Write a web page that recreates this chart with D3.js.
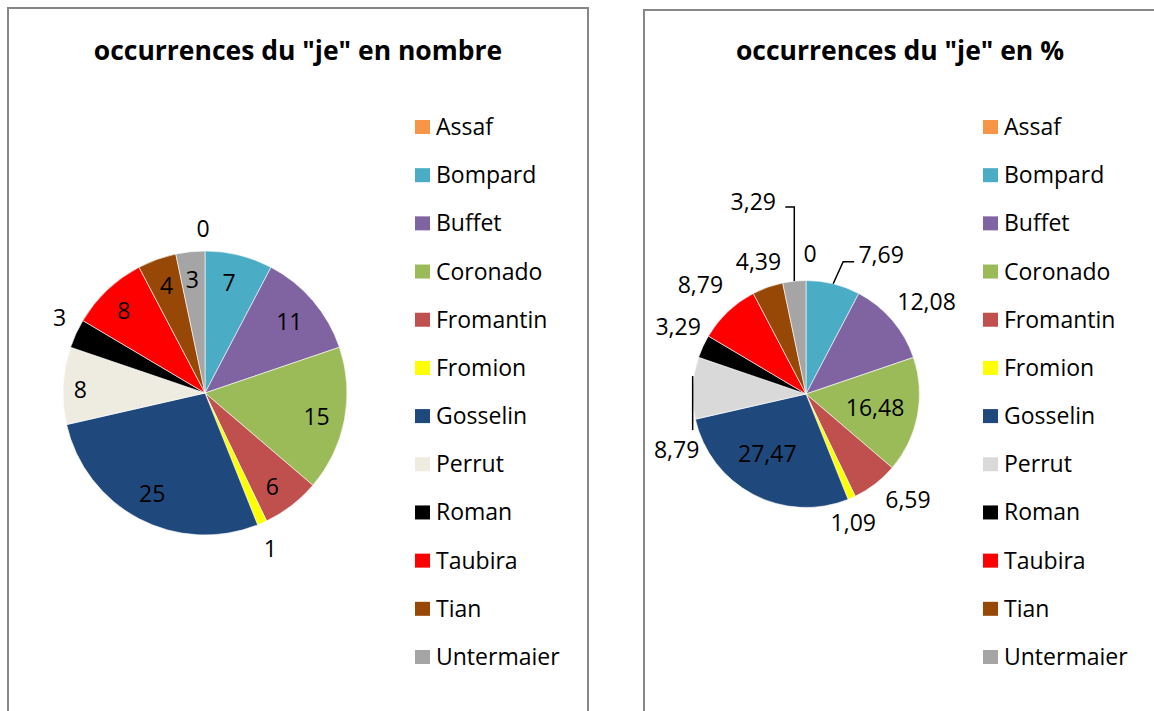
<!DOCTYPE html>
<html lang="fr">
<head>
  <meta charset="UTF-8">
  <title>occurrences du "je"</title>
  <script src="https://d3js.org/d3.v7.min.js"></script>
  <style>
    body {
      margin: 0;
      background: #fff;
    }
    svg {
      display: block;
      font-family: "Open Sans", Arial, sans-serif;
    }
  </style>
</head>
<body>
<svg width="1154" height="711"></svg>

<script>
  // data
  const names = ["Assaf", "Bompard", "Buffet", "Coronado", "Fromantin", "Fromion",
                 "Gosselin", "Perrut", "Roman", "Taubira", "Tian", "Untermaier"];
  const counts = [0, 7, 11, 15, 6, 1, 25, 8, 3, 8, 4, 3];
  const percents = [0, 7.69, 12.08, 16.48, 6.59, 1.09, 27.47, 8.79, 3.29, 8.79, 4.39, 3.29];

  const colorsLeft = ["#F79646", "#4BACC6", "#8064A2", "#9BBB59", "#C0504D", "#FFFF00",
                      "#1F497D", "#EEECE1", "#000000", "#FF0000", "#974806", "#A5A5A5"];
  const colorsRight = colorsLeft.map((c, i) => names[i] === "Perrut" ? "#D9D9D9" : c);

  const frFormat = d3.formatLocale({decimal: ",", thousands: " ", grouping: [3], currency: ["", " €"]}).format(".2f");

  const svg = d3.select("svg");

  // label placement: radius factor and pixel nudge, per slice
  const charts = [
    {
      title: 'occurrences du "je" en nombre',
      values: counts,
      colors: colorsLeft,
      fmt: d => String(d),
      frame: {x: 8, y: 8, w: 580},
      cx: 205, cy: 393, r: 142,
      legendX: 415,
      labelK: [1.155, 0.8, 0.8, 0.8, 0.8, 1.18, 0.8, 0.88, 1.15, 0.8, 0.8, 0.8],
      nudge: [[-2, 0], [-3, 0], [-2, 3], [0, 2], [-2, 4], [-2, 2], [0, 0], [0, 3], [3, -7], [-3, 0], [0, 0], [-1, 0]],
      leaders: {}
    },
    {
      title: 'occurrences du "je" en %',
      values: percents,
      colors: colorsRight,
      fmt: d => d === 0 ? "0" : frFormat(d),
      frame: {x: 644, y: 10, w: 512},
      cx: 806, cy: 394, r: 113.5,
      legendX: 983,
      labelK: [1.24, 1.0, 1.34, 0.62, 1.3, 1.21, 0.62, 1.0, 1.27, 1.34, 1.24, 1.0],
      nudge: [[4, 0], [48, -29], [5, 7], [0, 0], [12, -11], [-8, 3], [-6, -3], [-16, 62], [3, -7], [-1, 1], [0, 0], [-41, -79]],
      leaders: {
        1: (e, l) => [e, [l[0] - 38, l[1] + 7], [l[0] - 27, l[1] + 7]],
        7: (e, l) => [[e[0], e[1] - 12], [e[0], l[1] - 20]],
        11: (e, l) => [e, [e[0], l[1] + 5], [l[0] + 32, l[1] + 5]]
      }
    }
  ];

  charts.forEach(ch => {
    const g = svg.append("g");

    // chart frame (runs off the bottom of the picture)
    g.append("rect")
      .attr("x", ch.frame.x)
      .attr("y", ch.frame.y)
      .attr("width", ch.frame.w)
      .attr("height", 760)
      .attr("fill", "#fff")
      .attr("stroke", "#878787")
      .attr("stroke-width", 2);

    g.append("text")
      .attr("x", ch.frame.x + ch.frame.w / 2)
      .attr("y", 60)
      .attr("text-anchor", "middle")
      .style("font-size", "26.5px")
      .style("font-weight", "bold")
      .text(ch.title);

    const pie = d3.pie().sort(null).value(d => d)(ch.values);
    const arc = d3.arc().innerRadius(0).outerRadius(ch.r);

    const pieG = g.append("g").attr("transform", `translate(${ch.cx},${ch.cy})`);

    pieG.selectAll("path")
      .data(pie)
      .join("path")
      .attr("d", arc)
      .attr("fill", (d, i) => ch.colors[i])
      .attr("stroke", "#fff")
      .attr("stroke-width", 0.6);

    // labels
    pie.forEach((d, i) => {
      const mid = (d.startAngle + d.endAngle) / 2;
      const k = ch.labelK[i];
      const lx = Math.sin(mid) * ch.r * k + ch.nudge[i][0];
      const ly = -Math.cos(mid) * ch.r * k + ch.nudge[i][1];

      if (ch.leaders[i]) {
        const edge = [Math.sin(mid) * ch.r, -Math.cos(mid) * ch.r];
        const pts = ch.leaders[i](edge, [lx, ly]);
        pieG.append("path")
          .attr("d", d3.line()(pts))
          .attr("fill", "none")
          .attr("stroke", "#000")
          .attr("stroke-width", 1.5);
      }

      pieG.append("text")
        .attr("x", lx)
        .attr("y", ly)
        .attr("dy", "0.36em")
        .attr("text-anchor", "middle")
        .style("font-size", "23px")
        .attr("fill", "#000")
        .text(ch.fmt(ch.values[i]));
    });

    // legend
    const rowY = d3.scalePoint().domain(names).range([127, 657]);
    const leg = g.selectAll(".leg")
      .data(names)
      .join("g")
      .attr("transform", d => `translate(${ch.legendX},${rowY(d)})`);

    leg.append("rect")
      .attr("x", 0)
      .attr("y", -7)
      .attr("width", 15)
      .attr("height", 14)
      .attr("fill", (d, i) => ch.colors[i]);

    leg.append("text")
      .attr("x", 21)
      .attr("y", 8)
      .style("font-size", "23px")
      .attr("fill", "#000")
      .text(d => d);
  });
</script>
</body>
</html>
